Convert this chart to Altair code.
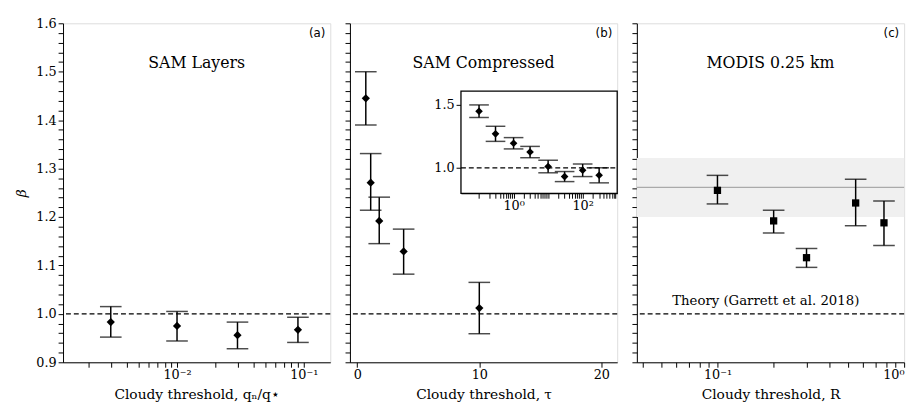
import altair as alt
import pandas as pd

FONT = "DejaVu Serif"
W, H = 272, 345

a_x = [0.003, 0.01, 0.03, 0.09]
a_y = [0.983, 0.975, 0.956, 0.967]
a_lo = [0.952, 0.944, 0.928, 0.941]
a_hi = [1.015, 1.005, 0.983, 0.993]

b_x = [0.7, 1.1, 1.8, 3.8, 10.0]
b_y = [1.445, 1.271, 1.192, 1.129, 1.012]
b_lo = [1.39, 1.214, 1.145, 1.082, 0.959]
b_hi = [1.50, 1.331, 1.241, 1.175, 1.065]

in_x = [0.1, 0.3, 1, 3, 10, 30, 100, 300]
in_y = [1.45, 1.27, 1.195, 1.125, 1.01, 0.93, 0.98, 0.94]
in_e = [0.05, 0.06, 0.045, 0.045, 0.05, 0.04, 0.05, 0.06]

c_x = [0.1, 0.2, 0.3, 0.55, 0.78]
c_y = [1.255, 1.192, 1.116, 1.229, 1.188]
c_lo = [1.227, 1.167, 1.096, 1.182, 1.141]
c_hi = [1.286, 1.214, 1.135, 1.278, 1.233]
band = [1.20, 1.322]
obs_line = 1.261

yvals = [round(0.9 + 0.02 * i, 2) for i in range(36)]
ylab = "(round(datum.value*50) % 5 == 0) ? format(datum.value, '.1f') : ''"
yscale = alt.Scale(domain=[0.9, 1.6], nice=False, zero=False)

def logticks(lo, hi):
    return [m * 10.0 ** e for e in range(lo, hi + 1) for m in range(1, 10)]

loglab = ("abs(datum.value-0.001)<1e-9 ? '10⁻³' : abs(datum.value-0.01)<1e-9 ? '10⁻²' : "
          "abs(datum.value-0.1)<1e-9 ? '10⁻¹' : abs(datum.value-1)<1e-9 ? '10⁰' : "
          "abs(datum.value-100)<1e-7 ? '10²' : ''")
inlab = "abs(datum.value-1)<1e-9 ? '10⁰' : abs(datum.value-100)<1e-7 ? '10²' : ''"

def yaxis(show):
    return alt.Axis(values=yvals, labelExpr=ylab if show else "''", title="β" if show else None,
                    titleFontStyle="italic", grid=False, labelFont=FONT, labelFontSize=13,
                    titleFont=FONT, titleFontSize=14, titleFontWeight="normal", tickColor="black",
                    domainColor="black", labelColor="black", ticks=True, titlePadding=8,
                    labelOverlap=False, labelFlush=False)

def xaxis(title, values=None, expr=None):
    kw = dict(title=title, grid=False, labelFont=FONT, labelFontSize=13, titleFont=FONT,
              titleFontSize=14, titleFontWeight="normal", tickColor="black", domainColor="black",
              labelColor="black", titlePadding=6, labelOverlap=False)
    if values is not None:
        kw["values"] = values
    if expr is not None:
        kw["labelExpr"] = expr
    return alt.Axis(**kw)

def panel(x, y, lo, hi, xscale, xax, showy, shape, title, letter):
    df = pd.DataFrame({"x": x, "y": y, "lo": lo, "hi": hi})
    base = alt.Chart(df)
    ya = yaxis(showy)
    X = alt.X("x:Q", scale=xscale, axis=xax)
    err = base.mark_rule(color="black", strokeWidth=1.5).encode(x=X, y=alt.Y("lo:Q", scale=yscale, axis=ya), y2="hi:Q")
    cap1 = base.mark_tick(color="black", orient="horizontal", size=22, thickness=1.5).encode(x=X, y=alt.Y("lo:Q", scale=yscale, axis=ya))
    cap2 = base.mark_tick(color="black", orient="horizontal", size=22, thickness=1.5).encode(x=X, y=alt.Y("hi:Q", scale=yscale, axis=ya))
    pts = base.mark_point(shape=shape, filled=True, color="black", opacity=1, size=55 if shape == "square" else 70).encode(
        x=X, y=alt.Y("y:Q", scale=yscale, axis=ya))
    dash = alt.Chart(pd.DataFrame({"v": [1.0]})).mark_rule(color="black", strokeDash=[5, 3], strokeWidth=1.3).encode(
        y=alt.Y("v:Q", scale=yscale, axis=ya))
    ttl = alt.Chart(pd.DataFrame({"t": [title]})).mark_text(font=FONT, fontSize=16, color="black").encode(
        text="t:N", x=alt.value(W / 2), y=alt.value(40))
    let = alt.Chart(pd.DataFrame({"t": [letter]})).mark_text(font="DejaVu Sans", fontSize=12, color="black", align="right").encode(
        text="t:N", x=alt.value(W - 5), y=alt.value(10))
    return [err, dash, cap1, cap2, pts, ttl, let]

sa = alt.Scale(type="log", domain=[0.00126, 0.162], nice=False)
pa = alt.layer(*panel(a_x, a_y, a_lo, a_hi, sa,
                      xaxis("Cloudy threshold, qₙ/q⋆", [v for v in logticks(-3, -1) if 0.00126 <= v <= 0.162], loglab),
                      True, "diamond", "SAM Layers", "(a)")).properties(width=W, height=H)

sb = alt.Scale(domain=[-0.6, 21.3], nice=False, zero=False)
pb_main = alt.layer(*panel(b_x, b_y, b_lo, b_hi, sb, xaxis("Cloudy threshold, τ", [0, 10, 20]), False, "diamond", "SAM Compressed", "(b)"))

ix0, ix1, iy0, iy1 = 113, 272, 69, 173
ins_df = pd.DataFrame({"x": in_x, "y": in_y, "lo": [a - b for a, b in zip(in_y, in_e)], "hi": [a + b for a, b in zip(in_y, in_e)]})
ixs = alt.Scale(type="log", domain=[0.03, 1000], nice=False, range=[ix0, ix1])
iys = alt.Scale(domain=[0.797, 1.61], nice=False, zero=False, range=[iy1, iy0])
iax = alt.Axis(values=[v for v in logticks(-1, 2) if 0.03 <= v <= 1000], labelExpr=inlab, title=None, grid=False, orient="bottom", offset=-(H - iy1),
               labelFont=FONT, labelFontSize=13, labelColor="black", tickColor="black", domainColor="black", labelOverlap=False)
iay = alt.Axis(values=[1.0, 1.5], format=".1f", title=None, grid=False, orient="left", offset=-ix0,
               labelFont=FONT, labelFontSize=13, labelColor="black", tickColor="black", domainColor="black")
ib = alt.Chart(ins_df)
IX = alt.X("x:Q", scale=ixs, axis=iax)
box = alt.Chart(pd.DataFrame({"a": [0]})).mark_rect(fill="white", stroke="black", strokeWidth=1.3).encode(
    x=alt.value(ix0), x2=alt.value(ix1), y=alt.value(iy0), y2=alt.value(iy1))
ierr = ib.mark_rule(color="black", strokeWidth=1.5).encode(x=IX, y=alt.Y("lo:Q", scale=iys, axis=iay), y2="hi:Q")
icap1 = ib.mark_tick(color="black", orient="horizontal", size=20, thickness=1.5).encode(x=IX, y=alt.Y("lo:Q", scale=iys, axis=iay))
icap2 = ib.mark_tick(color="black", orient="horizontal", size=20, thickness=1.5).encode(x=IX, y=alt.Y("hi:Q", scale=iys, axis=iay))
ipts = ib.mark_point(shape="diamond", filled=True, color="black", opacity=1, size=60).encode(x=IX, y=alt.Y("y:Q", scale=iys, axis=iay))
idash = alt.Chart(pd.DataFrame({"v": [1.0], "x1": [0.03], "x2": [1000]})).mark_rule(color="black", strokeDash=[5, 3], strokeWidth=1.3).encode(
    y=alt.Y("v:Q", scale=iys, axis=iay), x=alt.X("x1:Q", scale=ixs, axis=iax), x2="x2:Q")
inset = alt.layer(box, ierr, idash, icap1, icap2, ipts)
pb = alt.layer(pb_main, inset).resolve_scale(x="independent", y="independent").resolve_axis(x="independent", y="independent").properties(width=W, height=H)

sc = alt.Scale(type="log", domain=[0.037, 1.0], nice=False)
yac = yaxis(False)
bandc = alt.Chart(pd.DataFrame({"a": [band[0]], "b": [band[1]]})).mark_rect(color="#f0f0f0").encode(
    y=alt.Y("a:Q", scale=yscale, axis=yac), y2="b:Q")
linec = alt.Chart(pd.DataFrame({"v": [obs_line]})).mark_rule(color="#aaaaaa", strokeWidth=1.3).encode(y=alt.Y("v:Q", scale=yscale, axis=yac))
theory = alt.Chart(pd.DataFrame({"t": ["Theory (Garrett et al. 2018)"]})).mark_text(font=FONT, fontSize=13.5, color="black", align="left").encode(
    text="t:N", x=alt.value(36), y=alt.value(283))
lc = panel(c_x, c_y, c_lo, c_hi, sc,
           xaxis("Cloudy threshold, R", [v for v in logticks(-2, 0) if 0.037 <= v <= 1.0], loglab),
           False, "square", "MODIS 0.25 km", "(c)")
pc = alt.layer(bandc, linec, theory, *lc).properties(width=W, height=H)

chart = alt.hconcat(pa, pb, pc, spacing=10).configure_view(stroke="black", strokeWidth=1.3).configure(background="white")
chart.save("out.html", embed_options={"renderer": "svg", "actions": False})
